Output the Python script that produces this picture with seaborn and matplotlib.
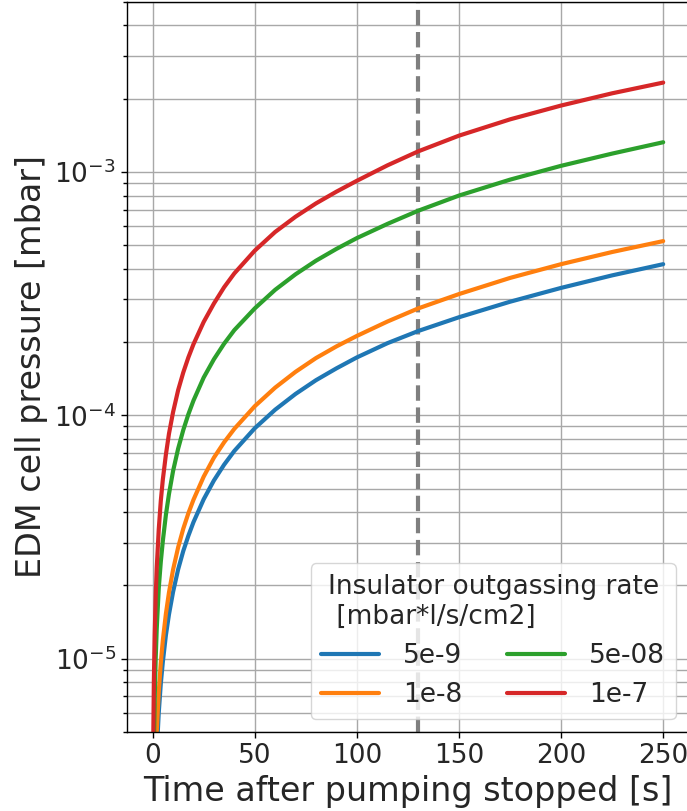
import matplotlib
matplotlib.use("Agg")
import matplotlib.pyplot as plt
import pandas as pd
import seaborn as sns

# Time after the pump is switched off [s]
time_s = [0.3, 0.6, 1, 1.5, 2, 3, 4, 5, 6.5, 8, 10, 12.5, 15, 17.5, 20, 25, 30, 35, 40,
          50, 60, 70, 80, 90, 100, 115, 130, 150, 175, 200, 225, 250]

# EDM cell pressure [mbar] for each insulator outgassing rate [mbar*l/s/cm2]
p_5e9 = [0.65e-6, 1.3e-6, 2.1e-6, 3.1e-6, 4.1e-6, 6.0e-6, 7.9e-6, 9.7e-6, 1.25e-5, 1.52e-5,
         1.88e-5, 2.33e-5, 2.77e-5, 3.2e-5, 3.64e-5, 4.52e-5, 5.4e-5, 6.27e-5, 7.14e-5,
         8.85e-5, 1.055e-4, 1.225e-4, 1.395e-4, 1.56e-4, 1.73e-4, 1.98e-4, 2.22e-4,
         2.53e-4, 2.93e-4, 3.34e-4, 3.76e-4, 4.18e-4]
p_1e8 = [0.8e-6, 1.6e-6, 2.6e-6, 3.8e-6, 5.0e-6, 7.3e-6, 9.6e-6, 1.19e-5, 1.53e-5, 1.87e-5,
         2.32e-5, 2.87e-5, 3.42e-5, 3.96e-5, 4.5e-5, 5.6e-5, 6.7e-5, 7.75e-5, 8.8e-5,
         1.09e-4, 1.3e-4, 1.51e-4, 1.72e-4, 1.92e-4, 2.12e-4, 2.43e-4, 2.75e-4,
         3.15e-4, 3.67e-4, 4.18e-4, 4.69e-4, 5.2e-4]
p_5e8 = [2.2e-6, 4.2e-6, 6.8e-6, 1.0e-5, 1.32e-5, 1.95e-5, 2.5e-5, 3.05e-5, 3.9e-5, 4.75e-5,
         5.9e-5, 7.3e-5, 8.7e-5, 1.01e-4, 1.15e-4, 1.43e-4, 1.7e-4, 1.97e-4, 2.24e-4,
         2.75e-4, 3.28e-4, 3.8e-4, 4.32e-4, 4.83e-4, 5.35e-4, 6.12e-4, 6.93e-4,
         8.0e-4, 9.3e-4, 1.06e-3, 1.19e-3, 1.325e-3]
p_1e7 = [4.5e-6, 8.0e-6, 1.25e-5, 1.8e-5, 2.35e-5, 3.4e-5, 4.45e-5, 5.45e-5, 6.9e-5, 8.4e-5,
         1.03e-4, 1.27e-4, 1.5e-4, 1.73e-4, 1.96e-4, 2.42e-4, 2.88e-4, 3.36e-4, 3.83e-4,
         4.75e-4, 5.67e-4, 6.55e-4, 7.43e-4, 8.3e-4, 9.2e-4, 1.065e-3, 1.215e-3,
         1.41e-3, 1.645e-3, 1.875e-3, 2.105e-3, 2.33e-3]

rate_labels = ["5e-9", "1e-8", "5e-08", "1e-7"]
series = [p_5e9, p_1e8, p_5e8, p_1e7]

# Moment of the measurement
t_marker = 130

df = pd.concat(
    [pd.DataFrame({"time": time_s, "pressure": vals, "rate": lab})
     for lab, vals in zip(rate_labels, series)],
    ignore_index=True,
)

sns.set_theme(style="ticks")
plt.rcParams["font.family"] = ["DejaVu Sans"]

fig = plt.figure(figsize=(6.87, 8.11), dpi=100)
ax = fig.add_axes([0.185, 0.0974, 0.8175, 0.9003])

palette = ["#1f77b4", "#ff7f0e", "#2ca02c", "#d62728"]
sns.lineplot(data=df, x="time", y="pressure", hue="rate", hue_order=rate_labels,
             palette=palette, linewidth=3, ax=ax, sort=False)

ax.axvline(t_marker, color="#7f7f7f", linestyle="--", linewidth=3, zorder=1)

ax.set_yscale("log")
ax.set_ylim(5e-6, 5e-3)
ax.set_xlim(-12.5, 262.5)
ax.set_xticks([0, 50, 100, 150, 200, 250])

ax.grid(which="major", axis="both", color="#a8a8a8", linewidth=1.0)
ax.grid(which="minor", axis="y", color="#a8a8a8", linewidth=1.0)
ax.set_axisbelow(True)

for side in ["left", "bottom", "top", "right"]:
    ax.spines[side].set_visible(True)
    ax.spines[side].set_color("black")
    ax.spines[side].set_linewidth(1.0)

ax.tick_params(axis="both", which="major", labelsize=19, length=4.5, width=1,
               color="black", direction="out")
ax.tick_params(axis="y", which="minor", length=3, width=1, color="black")

ax.set_xlabel("Time after pumping stopped [s]", fontsize=24)
ax.set_ylabel("EDM cell pressure [mbar]", fontsize=24)

leg = ax.legend(title="Insulator outgassing rate\n [mbar*l/s/cm2]", ncol=2,
                loc="lower right", fontsize=19, title_fontsize=19,
                frameon=True, framealpha=0.8, columnspacing=1.7,
                handlelength=2.2, handletextpad=0.9)
leg.get_title().set_multialignment("left")
for line in leg.get_lines():
    line.set_linewidth(3)

fig.savefig("out.png", dpi=100)
